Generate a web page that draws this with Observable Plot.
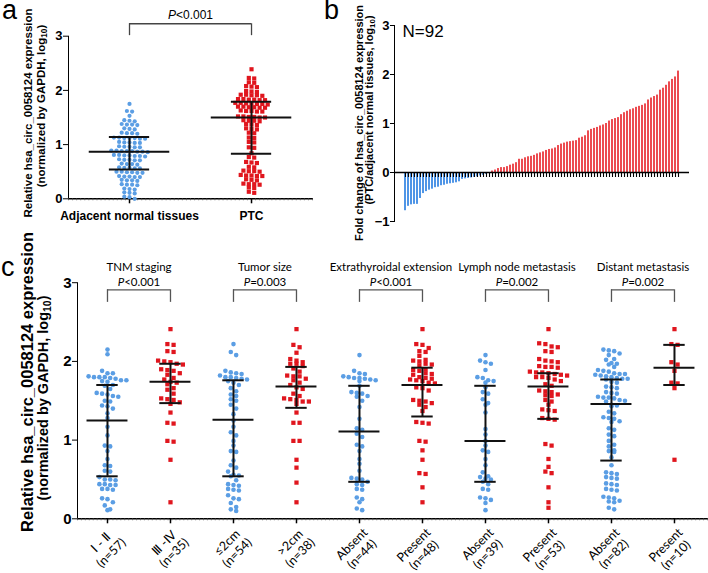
<!DOCTYPE html>
<html><head><meta charset="utf-8">
<script src="https://cdn.jsdelivr.net/npm/d3@7"></script>
<script src="https://cdn.jsdelivr.net/npm/@observablehq/plot@0.6"></script>
<style>
body{margin:0;background:#fff;}
#fig{position:relative;width:708px;height:573px;overflow:hidden;font-family:"Liberation Sans",Arial,Helvetica,sans-serif;color:#000;}
#fig svg{position:absolute;overflow:visible;}
.ylab{position:absolute;white-space:nowrap;text-align:center;font-weight:bold;transform:translate(-50%,-50%) rotate(-90deg);}
.ylab .sub{font-size:0.72em;vertical-align:baseline;position:relative;top:0.3em;}
.letter{position:absolute;font-size:27px;line-height:20px;}
</style></head><body><div id="fig"></div>
<script>
// ---------- Panel a data ----------
const aGroups = ["Adjacent normal tissues", "PTC"];
const adjacentNormal = [1.75, 1.62, 1.61, 1.53, 1.45, 1.44, 1.43, 1.38, 1.37, 1.37, 1.36, 1.30, 1.29, 1.28,
  1.22, 1.21, 1.21, 1.20, 1.13, 1.13, 1.12, 1.12, 1.12, 1.11, 1.11, 1.05, 1.04, 1.04, 1.03, 1.03,
  0.97, 0.96, 0.96, 0.95, 0.95, 0.89, 0.89, 0.88, 0.88, 0.88, 0.87, 0.87, 0.86, 0.81, 0.81, 0.80, 0.80, 0.79, 0.79, 0.78,
  0.73, 0.72, 0.72, 0.71, 0.71, 0.65, 0.64, 0.64, 0.63, 0.58, 0.57, 0.57, 0.56, 0.56, 0.50, 0.50, 0.49, 0.49, 0.48, 0.48,
  0.42, 0.41, 0.41, 0.40, 0.40, 0.35, 0.34, 0.34, 0.33, 0.27, 0.26, 0.26, 0.25, 0.19, 0.18, 0.17, 0.12, 0.11, 0.10, 0.04, 0.03, 0.00];
const ptcTumor = [2.39, 2.23, 2.22, 2.15, 2.14, 2.08, 2.07, 2.06, 1.99, 1.98, 1.97, 1.92, 1.92, 1.91, 1.91, 1.90,
  1.84, 1.84, 1.83, 1.83, 1.82, 1.82, 1.77, 1.77, 1.76, 1.76, 1.75, 1.75, 1.74, 1.70, 1.70, 1.69, 1.69, 1.68, 1.68,
  1.63, 1.62, 1.62, 1.61, 1.61, 1.52, 1.52, 1.51, 1.51, 1.50, 1.50, 1.45, 1.44, 1.44, 1.43, 1.38, 1.37, 1.36,
  1.30, 1.29, 1.28, 1.22, 1.21, 1.13, 1.12, 1.05, 1.04, 0.95, 0.94, 0.84, 0.77, 0.76, 0.68, 0.67, 0.66, 0.59, 0.58,
  0.52, 0.51, 0.51, 0.50, 0.44, 0.43, 0.43, 0.42, 0.42, 0.36, 0.35, 0.34, 0.28, 0.27, 0.27, 0.26, 0.21, 0.20, 0.13, 0.11];
const aMedian = [0.87, 1.50];
const aLow = [0.54, 0.83];
const aHigh = [1.14, 1.79];
const aPValue = "P<0.001";

// ---------- Panel b data (sorted fold change, log10) ----------
const foldChange = [-0.78, -0.69, -0.66, -0.65, -0.65, -0.53, -0.43, -0.39, -0.36, -0.34, -0.31, -0.30, -0.27, -0.26,
  -0.24, -0.23, -0.22, -0.21, -0.19, -0.14, -0.13, -0.12, -0.11, -0.10, -0.09, -0.07, -0.06, -0.04, -0.02,
  0.03, 0.05, 0.08, 0.10, 0.10, 0.12, 0.15, 0.17, 0.20, 0.27, 0.27, 0.30, 0.32, 0.33, 0.35, 0.38, 0.40,
  0.42, 0.45, 0.47, 0.48, 0.50, 0.55, 0.58, 0.60, 0.62, 0.63, 0.64, 0.65, 0.70, 0.72, 0.75, 0.85, 0.88, 0.90, 0.92,
  0.95, 0.97, 1.00, 1.05, 1.08, 1.10, 1.12, 1.18, 1.22, 1.25, 1.28, 1.30, 1.33, 1.35, 1.37, 1.40, 1.48, 1.52,
  1.55, 1.58, 1.68, 1.72, 1.78, 1.85, 1.90, 1.95, 2.07];
const bLabel = "N=92";

// ---------- Panel c data ----------
const cGroups = ["\u2160 - \u2161", "\u2162 -\u2163", "\u22642cm", ">2cm", "Absent", "Present", "Absent", "Present", "Absent", "Present"];
const cCounts = [57, 35, 54, 38, 44, 48, 39, 53, 82, 10];
const cFactors = ["TNM staging", "Tumor size", "Extrathyroidal extension", "Lymph node metastasis", "Distant metastasis"];
const cPValues = ["P<0.001", "P=0.003", "P<0.001", "P=0.002", "P=0.002"];
const tnmI_II = [2.15, 2.09, 1.88, 1.85, 1.85, 1.81, 1.80, 1.80, 1.80, 1.79, 1.78, 1.76, 1.76, 1.75, 1.74, 1.70, 1.69, 1.65,
  1.60, 1.59, 1.58, 1.56, 1.55, 1.50, 1.49, 1.44, 1.43, 1.40, 1.34, 1.28, 1.17, 1.06, 0.93, 0.92, 0.86, 0.76, 0.68, 0.67,
  0.61, 0.60, 0.53, 0.50, 0.50, 0.49, 0.44, 0.44, 0.43, 0.43, 0.38, 0.38, 0.37, 0.26, 0.25, 0.21, 0.17, 0.12, 0.11];
const tnmIII_IV = [2.41, 2.22, 2.21, 2.13, 2.12, 2.01, 2.00, 1.99, 1.97, 1.96, 1.90, 1.89, 1.88, 1.85, 1.83, 1.79, 1.77,
  1.74, 1.73, 1.71, 1.66, 1.64, 1.59, 1.53, 1.52, 1.51, 1.48, 1.46, 1.35, 1.22, 1.21, 0.99, 0.98, 0.75, 0.21];
const sizeLe2 = [2.22, 2.12, 2.08, 1.88, 1.86, 1.85, 1.84, 1.82, 1.80, 1.80, 1.79, 1.78, 1.77, 1.75, 1.73, 1.70, 1.66, 1.62,
  1.58, 1.56, 1.52, 1.50, 1.45, 1.40, 1.33, 1.25, 1.17, 1.10, 1.06, 0.99, 0.93, 0.86, 0.85, 0.74, 0.68, 0.65, 0.60, 0.56,
  0.55, 0.54, 0.49, 0.44, 0.43, 0.42, 0.38, 0.37, 0.36, 0.30, 0.26, 0.25, 0.20, 0.15, 0.12, 0.10];
const sizeGt2 = [2.41, 2.21, 2.18, 2.11, 2.03, 2.01, 1.99, 1.97, 1.97, 1.94, 1.91, 1.87, 1.82, 1.81, 1.81, 1.78, 1.76, 1.73,
  1.70, 1.67, 1.65, 1.59, 1.56, 1.53, 1.52, 1.51, 1.49, 1.49, 1.46, 1.35, 1.22, 1.22, 0.99, 0.99, 0.75, 0.65, 0.46, 0.21];
const eteAbsent = [2.08, 1.88, 1.85, 1.84, 1.81, 1.80, 1.79, 1.79, 1.78, 1.77, 1.76, 1.75, 1.69, 1.61, 1.60, 1.59, 1.56,
  1.55, 1.50, 1.42, 1.27, 1.15, 1.13, 1.08, 1.04, 0.94, 0.92, 0.86, 0.76, 0.70, 0.61, 0.52, 0.51, 0.50, 0.47, 0.44, 0.43,
  0.38, 0.37, 0.27, 0.25, 0.21, 0.13, 0.11];
const etePresent = [2.41, 2.22, 2.21, 2.17, 2.13, 2.12, 2.07, 2.02, 2.01, 2.00, 1.97, 1.96, 1.95, 1.90, 1.89, 1.88, 1.85,
  1.84, 1.83, 1.80, 1.79, 1.78, 1.77, 1.76, 1.75, 1.73, 1.72, 1.67, 1.66, 1.63, 1.51, 1.50, 1.49, 1.47, 1.45, 1.42, 1.37,
  1.23, 1.22, 1.21, 0.99, 0.98, 0.87, 0.75, 0.58, 0.57, 0.40, 0.21];
const lnmAbsent = [2.08, 2.01, 1.99, 1.97, 1.89, 1.80, 1.79, 1.76, 1.75, 1.73, 1.67, 1.61, 1.59, 1.52, 1.47, 1.45, 1.35,
  1.14, 1.07, 0.99, 0.93, 0.87, 0.85, 0.76, 0.68, 0.59, 0.54, 0.53, 0.51, 0.50, 0.47, 0.44, 0.38, 0.37, 0.27, 0.26, 0.24,
  0.20, 0.11];
const lnmPresent = [2.41, 2.23, 2.22, 2.19, 2.18, 2.13, 2.12, 2.03, 2.01, 2.00, 1.99, 1.94, 1.93, 1.93, 1.92, 1.87, 1.86,
  1.86, 1.85, 1.84, 1.83, 1.82, 1.80, 1.80, 1.79, 1.77, 1.75, 1.71, 1.69, 1.63, 1.62, 1.61, 1.58, 1.57, 1.56, 1.51, 1.49,
  1.45, 1.39, 1.38, 1.37, 1.28, 1.27, 1.26, 0.95, 0.93, 0.76, 0.66, 0.60, 0.58, 0.40, 0.21, 0.14];
const dmAbsent = [2.15, 2.14, 2.13, 2.10, 2.08, 2.03, 2.02, 1.98, 1.97, 1.96, 1.93, 1.89, 1.88, 1.87, 1.85, 1.84, 1.84,
  1.83, 1.82, 1.81, 1.80, 1.79, 1.78, 1.78, 1.77, 1.74, 1.73, 1.68, 1.67, 1.66, 1.61, 1.60, 1.59, 1.55, 1.54, 1.54, 1.53,
  1.51, 1.50, 1.49, 1.45, 1.44, 1.43, 1.36, 1.34, 1.29, 1.28, 1.27, 1.24, 1.23, 1.15, 1.13, 1.07, 1.05, 0.99, 0.94, 0.92,
  0.87, 0.86, 0.85, 0.78, 0.68, 0.59, 0.58, 0.57, 0.53, 0.52, 0.51, 0.45, 0.44, 0.43, 0.38, 0.37, 0.36, 0.28, 0.27, 0.26,
  0.23, 0.22, 0.21, 0.14, 0.12];
const dmPresent = [2.41, 2.22, 2.21, 1.99, 1.96, 1.88, 1.73, 1.72, 1.66, 0.75];
const cMedian = [1.25, 1.74, 1.26, 1.68, 1.11, 1.70, 0.99, 1.68, 1.46, 1.92];
const cLow = [0.54, 1.47, 0.54, 1.41, 0.47, 1.30, 0.47, 1.27, 0.74, 1.70];
const cHigh = [1.70, 1.97, 1.76, 1.93, 1.69, 1.92, 1.69, 1.85, 1.77, 2.21];

// ---------- styles ----------
const blueDot = "#5b9ee4", redSq = "#e0161e", blueBar = "#4f95e6", redBar = "#ec4b50";
const fontArial = '"Liberation Sans", Arial, Helvetica, sans-serif';
const fontCal = 'Lato, "Open Sans", sans-serif';
const calSize = 12.5;

// GraphPad-like scatter: points with close y share a row, centred on the group
function swarm(values, pxY, gapPx, slotPx) {
  const order = d3.range(values.length).sort((a, b) => values[b] - values[a]);
  const off = new Array(values.length).fill(0);
  let row = [], start = null;
  const flush = () => { row.forEach((idx, j) => { off[idx] = (j - (row.length - 1) / 2) * slotPx; }); row = []; };
  for (const idx of order) {
    const v = values[idx];
    if (row.length && (start - v) * pxY >= gapPx) flush();
    if (!row.length) start = v;
    row.push(idx);
  }
  flush();
  return off;
}
function groupDots(groups, pxX, pxY, gapPx, slotPxFn) {
  return groups.flatMap((vals, g) => {
    const off = swarm(vals, pxY, gapPx, slotPxFn(g));
    return vals.map((v, i) => ({g, v, x: g + off[i] / pxX}));
  });
}
function italicP(svg) {
  const ns = "http://www.w3.org/2000/svg";
  svg.querySelectorAll("text").forEach(t => {
    const s = t.textContent;
    if (/^P[<=]\d/.test(s) && !t.querySelector("tspan")) {
      t.textContent = "";
      const a = document.createElementNS(ns, "tspan"); a.setAttribute("font-style", "italic"); a.textContent = "P";
      const b = document.createElementNS(ns, "tspan"); b.textContent = s.slice(1);
      t.append(a, b);
    }
  });
}
const fig = document.getElementById("fig");
function place(svg, left, top) { svg.style.left = left + "px"; svg.style.top = top + "px"; italicP(svg); fig.appendChild(svg); }

// ---------- Panel a ----------
{
  const W = 330, H = 240, mL = 68, mR = 17, mT = 35.7, mB = 41.7;
  const xd = [-0.5, 1.508];
  const pxX = (W - mL - mR) / (xd[1] - xd[0]), pxY = (H - mT - mB) / 3;
  const dots = groupDots([adjacentNormal, ptcTumor], pxX, pxY, 3.4, g => g ? 5.4 : 5.2);
  const idx = d3.range(2);
  const svg = Plot.plot({
    width: W, height: H, marginLeft: mL, marginRight: mR, marginTop: mT, marginBottom: mB,
    style: {fontFamily: fontArial, fontSize: "13px", fontWeight: "bold", background: "transparent", overflow: "visible"},
    x: {domain: xd, axis: null},
    y: {domain: [0, 3], ticks: [0, 1, 2, 3], tickSize: 5, tickPadding: 1, tickFormat: d3.format("d"), line: true, label: null},
    marks: [
      Plot.ruleY([0], {stroke: "#000", strokeWidth: 1.5}),
      Plot.ruleX(d3.range(xd[0], xd[1], 1 / 30), {y1: 0, y2: -2 / pxY, stroke: "#555", strokeWidth: 0.7}),
      Plot.ruleX(idx, {y1: 0, y2: -5 / pxY, stroke: "#000", strokeWidth: 1.5}),
      Plot.text(aGroups, {x: (d, i) => i, y: 0, dy: 17, text: d => d, fontSize: 12, fontWeight: "bold"}),
      Plot.dot(dots, {filter: d => d.g === 0, x: "x", y: "v", r: 2.1, fill: blueDot}),
      Plot.dot(dots, {filter: d => d.g === 1, x: "x", y: "v", r: 2.35, symbol: "square", fill: redSq}),
      Plot.ruleX(idx, {x: i => i, y1: i => aLow[i], y2: i => aHigh[i], stroke: "#111", strokeWidth: 2}),
      Plot.ruleY(idx, {y: i => aMedian[i], x1: i => i - 0.33, x2: i => i + 0.33, stroke: "#111", strokeWidth: 2}),
      Plot.ruleY(idx, {y: i => aLow[i], x1: i => i - 0.165, x2: i => i + 0.165, stroke: "#111", strokeWidth: 2}),
      Plot.ruleY(idx, {y: i => aHigh[i], x1: i => i - 0.165, x2: i => i + 0.165, stroke: "#111", strokeWidth: 2}),
      Plot.ruleY([3.23], {x1: 0, x2: 1, stroke: "#444", strokeWidth: 1.3}),
      Plot.ruleX(idx, {y1: 3.01, y2: 3.23, stroke: "#444", strokeWidth: 1.3}),
      Plot.text([aPValue], {x: () => 0.5, y: () => 3.39, text: d => d, fontSize: 12, fontWeight: "normal"})
    ]
  });
  place(svg, 0, 0);
}

// ---------- Panel b ----------
{
  const W = 358, H = 240, mL = 44, mR = 19, mT = 25, mB = 19;
  const pxY = (H - mT - mB) / 4;
  const bars = foldChange.map((v, i) => ({i, v}));
  const svg = Plot.plot({
    width: W, height: H, marginLeft: mL, marginRight: mR, marginTop: mT, marginBottom: mB,
    style: {fontFamily: fontArial, fontSize: "13px", fontWeight: "bold", background: "transparent", overflow: "visible"},
    x: {type: "band", domain: d3.range(foldChange.length), padding: 0.2, axis: null},
    y: {domain: [-1, 3], ticks: [-1, 0, 1, 2, 3], tickSize: 4, tickPadding: 1, tickFormat: d3.format("d"), line: true, label: null},
    marks: [
      Plot.barY(bars, {filter: d => d.v < 0, x: "i", y: "v", fill: blueBar}),
      Plot.barY(bars, {filter: d => d.v >= 0, x: "i", y: "v", fill: redBar}),
      Plot.ruleY([0], {stroke: "#000", strokeWidth: 1.5}),
      Plot.ruleX(bars, {x: "i", y1: 0, y2: -5 / pxY, stroke: "#000", strokeWidth: 1.1}),
      Plot.text([bLabel], {frameAnchor: "top-left", dx: 8, dy: 6, textAnchor: "start", lineAnchor: "middle", text: d => d, fontSize: 17, fontWeight: "normal"})
    ]
  });
  place(svg, 350, 0);
}

// ---------- Panel c ----------
{
  const W = 708, H = 323, mL = 77, mR = 0, mT = 32.2, mB = 54.7;
  const xd = [-0.476, 9.54];
  const pxX = (W - mL - mR) / (xd[1] - xd[0]), pxY = (H - mT - mB) / 3;
  const groups = [tnmI_II, tnmIII_IV, sizeLe2, sizeGt2, eteAbsent, etePresent, lnmAbsent, lnmPresent, dmAbsent, dmPresent];
  const dots = groupDots(groups, pxX, pxY, 4.3, g => g % 2 ? 6.2 : 5.4);
  const idx = d3.range(cGroups.length), fIdx = d3.range(cFactors.length);
  // rotated two-line tick labels, lines centred within the block (as in GraphPad)
  const ctx = document.createElement("canvas").getContext("2d");
  ctx.font = `${calSize}px ${fontCal}`;
  const lh = calSize * 1.15, s = Math.SQRT1_2;
  const tickLabels = idx.flatMap(i => {
    const lines = [cGroups[i], `(n=${cCounts[i]})`];
    const Wb = Math.max(...lines.map(t => ctx.measureText(t).width));
    return lines.map((t, j) => {
      // block top-right corner just below the tick; u = text direction, v = down-right normal
      const px = 1 - s * Wb / 2 + s * lh * (j + 0.5);
      const py = 6.5 + s * Wb / 2 + s * lh * (j + 0.5);
      return {t, x: i + px / pxX, y: -py / pxY};
    });
  });
  const svg = Plot.plot({
    width: W, height: H, marginLeft: mL, marginRight: mR, marginTop: mT, marginBottom: mB,
    style: {fontFamily: fontArial, fontSize: "15px", fontWeight: "bold", background: "transparent", overflow: "visible"},
    x: {domain: xd, axis: null},
    y: {domain: [0, 3], ticks: [0, 1, 2, 3], tickSize: 5, tickPadding: 1, tickFormat: d3.format("d"), line: true, label: null},
    marks: [
      Plot.ruleY([0], {stroke: "#000", strokeWidth: 1.5}),
      Plot.ruleX(d3.range(xd[0], xd[1], 1 / 16), {y1: 0, y2: -2 / pxY, stroke: "#555", strokeWidth: 0.7}),
      Plot.ruleX(idx, {y1: 0, y2: -5 / pxY, stroke: "#000", strokeWidth: 1.5}),
      Plot.text(tickLabels, {x: "x", y: "y", text: "t", rotate: -45, textAnchor: "middle", lineAnchor: "middle",
        fontFamily: fontCal, fontWeight: "normal", fontSize: calSize}),
      Plot.dot(dots, {filter: d => d.g % 2 === 0, x: "x", y: "v", r: 2.3, fill: blueDot}),
      Plot.dot(dots, {filter: d => d.g % 2 === 1, x: "x", y: "v", r: 2.4, symbol: "square", fill: redSq}),
      Plot.ruleX(idx, {x: i => i, y1: i => cLow[i], y2: i => cHigh[i], stroke: "#111", strokeWidth: 2}),
      Plot.ruleY(idx, {y: i => cMedian[i], x1: i => i - 0.325, x2: i => i + 0.325, stroke: "#111", strokeWidth: 2}),
      Plot.ruleY(idx, {y: i => cLow[i], x1: i => i - 0.17, x2: i => i + 0.17, stroke: "#111", strokeWidth: 2}),
      Plot.ruleY(idx, {y: i => cHigh[i], x1: i => i - 0.17, x2: i => i + 0.17, stroke: "#111", strokeWidth: 2}),
      Plot.ruleY(fIdx, {y: 2.91, x1: k => 2 * k, x2: k => 2 * k + 1, stroke: "#555", strokeWidth: 1.3}),
      Plot.ruleX(idx, {x: i => i, y1: 2.75, y2: 2.91, stroke: "#555", strokeWidth: 1.3}),
      Plot.text(fIdx, {x: k => 2 * k + 0.5, y: 3.19, text: k => cFactors[k], fontFamily: fontCal, fontWeight: "normal", fontSize: 11.5}),
      Plot.text(fIdx, {x: k => 2 * k + 0.5, y: 3.0, text: k => cPValues[k], fontFamily: fontCal, fontWeight: "normal", fontSize: 11.5})
    ]
  });
  place(svg, 0, 250);
}

// ---------- overlay texts (panel letters, y titles) ----------
function addDiv(cls, html, css) { const d = document.createElement("div"); d.className = cls; d.innerHTML = html; Object.assign(d.style, css); fig.appendChild(d); }
addDiv("letter", "a", {left: "2px", top: "0px"});
addDiv("letter", "b", {left: "324px", top: "0px"});
addDiv("letter", "c", {left: "1px", top: "257px"});
const sub10 = 'log<span class="sub">10</span>';
addDiv("ylab", "Relative hsa_circ_0058124 expression", {left: "28px", top: "112.5px", fontSize: "11.5px", lineHeight: "14px"});
addDiv("ylab", `(normalized by GAPDH, ${sub10})`, {left: "42px", top: "106px", fontSize: "11.5px", lineHeight: "14px"});
addDiv("ylab", "Fold change of hsa_circ_0058124 expression", {left: "359px", top: "122.5px", fontSize: "11px", lineHeight: "13px"});
addDiv("ylab", `(PTC/adjacent normal tissues, ${sub10})`, {left: "370px", top: "110px", fontSize: "11px", lineHeight: "13px"});
addDiv("ylab", "Relative hsa_circ_0058124 expression", {left: "27px", top: "382px", fontSize: "16.5px", lineHeight: "18px"});
addDiv("ylab", `(normalized by GAPDH, ${sub10})`, {left: "44px", top: "398px", fontSize: "14.5px", lineHeight: "16px"});
</script></body></html>
